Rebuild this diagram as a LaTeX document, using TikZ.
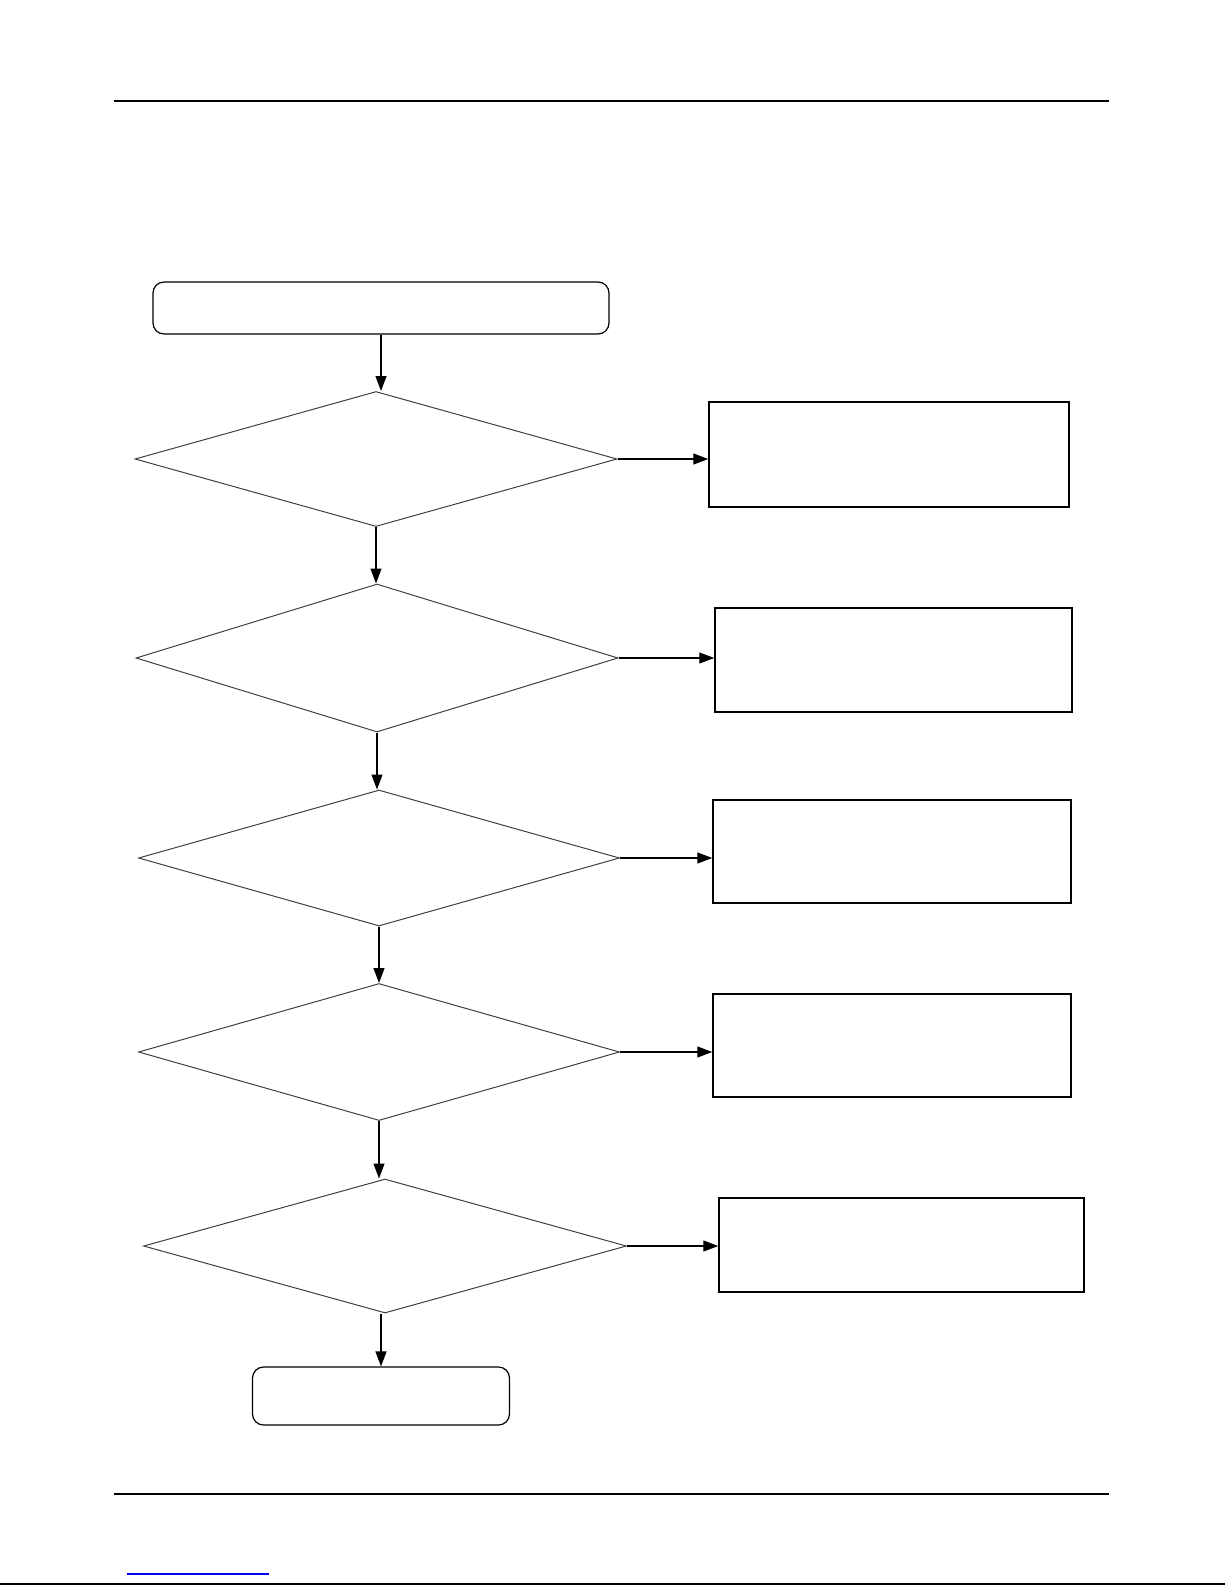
\documentclass[tikz,border=0pt]{standalone}
\usepackage{xcolor}
\usetikzlibrary{shapes.geometric,arrows.meta}

\begin{document}
\begin{tikzpicture}[x=0.5pt,y=-0.5pt,
    decision/.style={draw=black!75,line width=0.5pt,diamond,inner sep=0pt,aspect=3.5},
    action/.style={draw,line width=0.75pt,rectangle,inner sep=0pt},
    terminal/.style={draw,line width=0.6pt,rectangle,rounded corners=5.5pt,inner sep=0pt},
    flow/.style={-{Triangle[length=7.5pt,width=5.5pt]},line width=0.6pt}]

      \useasboundingbox (0,0) rectangle (1225,1585);

      \draw[line width=1pt] (114,101) -- (1109,101);
      \draw[line width=1pt] (114,1494) -- (1109,1494);
      \draw[blue,line width=0.6pt] (127,1574) -- (269,1574);
      \draw[line width=1pt] (0,1583.5) -- (1225,1583.5);

      \node[terminal,minimum width=228pt,minimum height=26pt] (start) at (381,308) {};

      \node[decision,minimum width=241pt,minimum height=67.5pt] (d1) at (376,459) {};
      \node[decision,minimum width=241pt,minimum height=74pt] (d2) at (377,658) {};
      \node[decision,minimum width=240.5pt,minimum height=68pt] (d3) at (379,858) {};
      \node[decision,minimum width=240.5pt,minimum height=68.5pt] (d4) at (379,1052) {};
      \node[decision,minimum width=241.5pt,minimum height=67pt] (d5) at (385,1246) {};

      \node[action,minimum width=180pt,minimum height=52.5pt] (b1) at (889,454.5) {};
      \node[action,minimum width=178.5pt,minimum height=52pt] (b2) at (893.5,660) {};
      \node[action,minimum width=179pt,minimum height=51.5pt] (b3) at (892,851.5) {};
      \node[action,minimum width=179pt,minimum height=51.5pt] (b4) at (892,1045.5) {};
      \node[action,minimum width=182.5pt,minimum height=47pt] (b5) at (901.5,1245) {};

      \node[terminal,minimum width=128.5pt,minimum height=29pt] (stop) at (381,1396) {};

      \draw[flow] (start.south) -- (start.south |- d1.north);
      \draw[flow] (d1.south) -- (d1.south |- d2.north);
      \draw[flow] (d2.south) -- (d2.south |- d3.north);
      \draw[flow] (d3.south) -- (d4.north);
      \draw[flow] (d4.south) -- (d4.south |- d5.north);
      \draw[flow] (d5.south -| stop.north) -- (stop.north);

      \draw[flow] (d1.east) -- (d1.east -| b1.west);
      \draw[flow] (d2.east) -- (d2.east -| b2.west);
      \draw[flow] (d3.east) -- (d3.east -| b3.west);
      \draw[flow] (d4.east) -- (d4.east -| b4.west);
      \draw[flow] (d5.east) -- (d5.east -| b5.west);

    \end{tikzpicture}
\end{document}
